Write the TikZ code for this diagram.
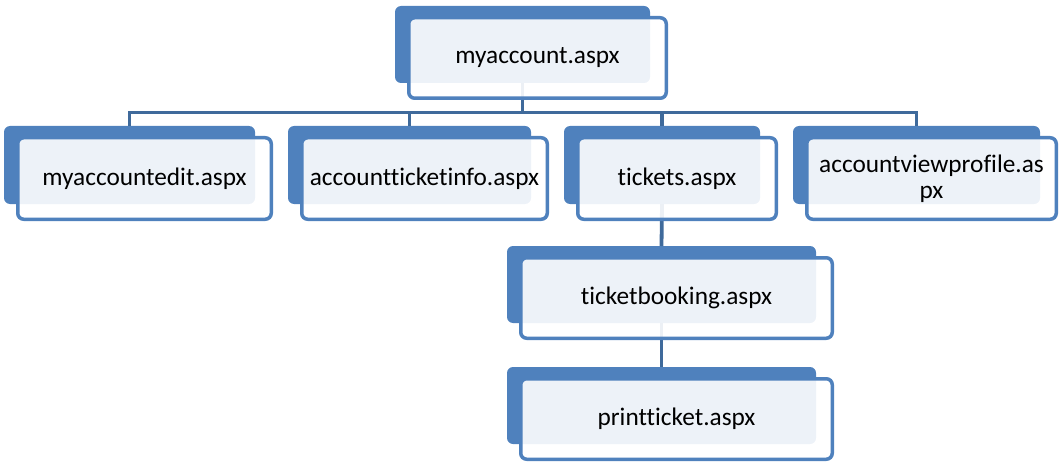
\documentclass[tikz,border=0pt]{standalone}
\usepackage{fontspec}
\setmainfont{Carlito}[Ligatures={NoCommon}]
\definecolor{nodeblue}{HTML}{4F81BD}
\definecolor{linkblue}{HTML}{3F6A9B}
\newcommand\pagebox[6]{% name, cx, cy, w, h, text (back box + front box)
  \node[back, minimum width=#4pt, minimum height=#5pt] (#1) at (#2,#3) {};
  \expandafter\def\csname front#1\endcsname{%
    \node[front, minimum width={#4pt+2.5pt}, minimum height={#5pt+3.5pt}]
      (#1f) at ({#2+15},{#3+13.5}) {#6};}}
\newcommand\showfront[1]{\csname front#1\endcsname}
\begin{document}
\begin{tikzpicture}[x=1pt,y=-1pt,
  back/.style={rectangle, rounded corners=6pt, fill=nodeblue, inner sep=0pt, outer sep=0pt},
  front/.style={rectangle, rounded corners=6pt, draw=nodeblue, line width=3.5pt,
    fill=white, fill opacity=0.9, draw opacity=1, text opacity=1, inner sep=0pt, outer sep=0pt,
    font=\fontsize{25.3}{26}\selectfont, align=center},
  link/.style={draw=linkblue, line width=3.8pt}]
\useasboundingbox (0,0) rectangle (1059,465);
% back boxes
\pagebox{top}{522.5}{44.5}{255}{77}{myaccount.aspx}
\pagebox{b1}{129.5}{165}{251}{78}{myaccountedit.aspx}
\pagebox{b2}{409.5}{165}{243}{78}{accountticketinfo.aspx}
\pagebox{b3}{662}{165}{196}{78}{tickets.aspx}
\pagebox{b4}{916.5}{165}{247}{78}{accountviewprofile.as\\px}
\pagebox{b5}{661.5}{284.5}{309}{77}{ticketbooking.aspx}
\pagebox{b6}{661.5}{405.5}{309}{77}{printticket.aspx}
% connectors
\coordinate (bus) at (522.5,112.5);
\draw[link] (top.south) -- (top.south |- bus);
\draw[link] (b1.north) -- (b1.north |- bus) -- (b4.north |- bus) -- (b4.north);
\draw[link] (b2.north) -- (b2.north |- bus);
\draw[link] (b3.north) -- (b3.north |- bus);
\draw[link] (b3.south) -- (b5.north);
\draw[link] (b5.south) -- (b6.north);
% front boxes
\showfront{top}
\showfront{b1}
\showfront{b2}
\showfront{b3}
\showfront{b4}
\showfront{b5}
\showfront{b6}
\end{tikzpicture}
\end{document}
